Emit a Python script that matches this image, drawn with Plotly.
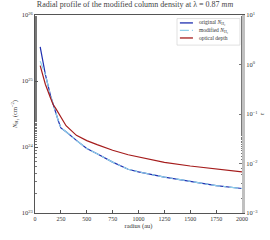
import plotly.graph_objects as go

radius = [50, 100, 150, 175, 200, 225, 250, 275, 300, 400, 500, 600, 750, 900, 1000, 1250, 1500, 1750, 2000]
n_original = [3.3e25, 1.26e25, 6.0e24, 4.4e24, 3.2e24, 2.5e24, 1.95e24, 1.8e24, 1.7e24, 1.26e24, 9.5e23,
              7.9e23, 5.9e23, 4.6e23, 4.2e23, 3.5e23, 3.0e23, 2.6e23, 2.35e23]
n_modified = [2.0e25, 1.26e25, 6.0e24, 4.4e24, 3.2e24, 2.5e24, 1.95e24, 1.8e24, 1.7e24, 1.26e24, 9.5e23,
              7.9e23, 5.9e23, 4.6e23, 4.2e23, 3.5e23, 3.0e23, 2.6e23, 2.35e23]
tau = [0.95, 0.40, 0.21, 0.155, 0.13, 0.105, 0.085, 0.068, 0.058, 0.037, 0.029, 0.024, 0.0185, 0.015,
       0.0135, 0.0105, 0.0089, 0.0078, 0.0068]
x_ticks = [0, 250, 500, 750, 1000, 1250, 1500, 1750, 2000]
n_tick_vals = [1e23, 1e24, 1e25, 1e26]
n_tick_text = ["10<sup>23</sup>", "10<sup>24</sup>", "10<sup>25</sup>", "10<sup>26</sup>"]
tau_tick_vals = [1e-3, 1e-2, 1e-1, 1e0, 1e1]
tau_tick_text = ["10<sup>−3</sup>", "10<sup>−2</sup>", "10<sup>−1</sup>", "10<sup>0</sup>", "10<sup>1</sup>"]

series_names = ["original <i>N</i><sub>H₂</sub>", "modified <i>N</i><sub>H₂</sub>", "optical depth"]
series_colors = ["#1f2fb0", "#8fd0ea", "#a51c1c"]
series_dash = ["solid", "dashdot", "solid"]

FONT = "Liberation Serif"

fig = go.Figure()
fig.add_trace(go.Scatter(x=radius, y=n_original, mode="lines", name=series_names[0],
                         line=dict(color=series_colors[0], width=1.2)))
fig.add_trace(go.Scatter(x=radius, y=n_modified, mode="lines", name=series_names[1],
                         line=dict(color=series_colors[1], width=1.2, dash="dashdot")))
fig.add_trace(go.Scatter(x=radius, y=tau, mode="lines", name=series_names[2], yaxis="y2",
                         line=dict(color=series_colors[2], width=1.2)))

# compact legend drawn in paper coordinates
shapes = [dict(type="rect", xref="paper", yref="paper", x0=0.686, x1=0.99, y0=0.848, y1=0.982,
               line=dict(color="#cccccc", width=0.6), fillcolor="white", layer="above")]
annotations = []
item_y = [0.960, 0.922, 0.884]
for name, col, dash, yy in zip(series_names, series_colors, series_dash, item_y):
    shapes.append(dict(type="line", xref="paper", yref="paper", x0=0.700, x1=0.763, y0=yy, y1=yy,
                       line=dict(color=col, width=1.3, dash=dash), layer="above"))
    annotations.append(dict(xref="paper", yref="paper", x=0.785, y=yy, text=name, showarrow=False,
                            xanchor="left", yanchor="middle", font=dict(size=5.5, family=FONT, color="#333")))

fig.update_layout(
    width=270, height=240,
    margin=dict(l=35, r=28, t=15, b=27, autoexpand=False),
    paper_bgcolor="white", plot_bgcolor="white",
    font=dict(family=FONT, size=6, color="#333"),
    title=dict(text="Radial profile of the modified column density at λ = 0.87 <i>mm</i>",
               x=0.5, xanchor="center", y=0.995, yanchor="top", font=dict(size=8, family=FONT, color="#444")),
    showlegend=False,
    shapes=shapes,
    annotations=annotations,
    xaxis=dict(range=[0, 2000], tickvals=x_ticks, showgrid=False, zeroline=False, automargin=False,
               showline=True, linecolor="#555", linewidth=1, mirror=True, ticks="inside", ticklen=3,
               tickcolor="#555", tickfont=dict(size=6),
               title=dict(text="radius (au)", font=dict(size=6.5, family=FONT), standoff=2)),
    yaxis=dict(type="log", range=[23, 26], showgrid=False, zeroline=False,
               tickvals=n_tick_vals, ticktext=n_tick_text, automargin=False,
               showline=True, linecolor="#555", linewidth=1, ticks="inside", ticklen=3,
               tickcolor="#555", tickfont=dict(size=6.5),
               minor=dict(ticks="inside", ticklen=1.5, tickcolor="#777"),
               title=dict(text="<i>N</i><sub>H₂</sub> (cm<sup>−2</sup>)", font=dict(size=6.5, family=FONT), standoff=3)),
    yaxis2=dict(type="log", range=[-3, 1], overlaying="y", side="right", showgrid=False, zeroline=False,
                tickvals=tau_tick_vals, ticktext=tau_tick_text, automargin=False,
                showline=True, linecolor="#c0c0c0", linewidth=3,
                ticks="inside", ticklen=3, tickcolor="#777", tickfont=dict(size=6.5),
                minor=dict(ticks="inside", ticklen=1.5, tickcolor="#777"),
                title=dict(text="<i>τ</i>", font=dict(size=6.5, family=FONT), standoff=2)),
)

fig.write_html("out.html", config={"displayModeBar": False},
               post_script="document.body.style.margin='0';document.body.style.padding='0';")
